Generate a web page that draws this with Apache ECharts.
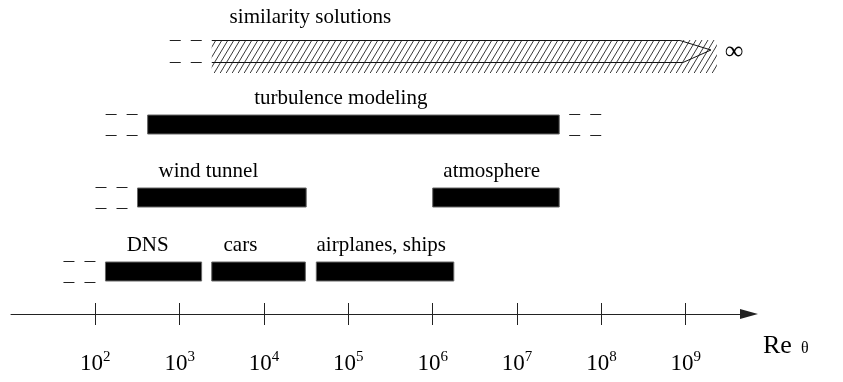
<!DOCTYPE html>
<html><head><meta charset="utf-8">
<script src="https://cdn.jsdelivr.net/npm/echarts@6/dist/echarts.min.js"></script>
<style>html,body{margin:0;padding:0;background:#fff}#c{width:843px;height:382px}</style>
</head><body><div id="c"></div>
<script>
// ---- data (Re_theta ranges as log10 exponents) ----
const labels   = ['DNS', 'cars', 'airplanes, ships', 'wind tunnel', 'atmosphere', 'turbulence modeling', 'similarity solutions'];
const rows     = [0, 0, 0, 1, 1, 2, 3];
const startExp = [2.12, 3.38, 4.62, 2.50, 6.00, 2.62, 3.38];
const endExp   = [3.26, 4.49, 6.25, 4.50, 7.50, 7.50, 9.37];
const labelExp = [2.62, 3.72, 5.39, 3.34, 6.70, 4.91, 4.55];
const dashLeft = [1, 0, 0, 1, 0, 1, 1];
const dashRight= [0, 0, 0, 0, 0, 1, 0];
const hatched  = [0, 0, 0, 0, 0, 0, 1];
const tickExp  = [2, 3, 4, 5, 6, 7, 8, 9];
const axisName = 'Re';
const axisSub  = 'θ';
const infinityMark = '∞';

const data = labels.map((l, i) => [startExp[i], endExp[i], rows[i], labelExp[i], dashLeft[i], dashRight[i], hatched[i], l]);

// hatch pattern
const pc = document.createElement('canvas');
pc.width = 6; pc.height = 10;
const g = pc.getContext('2d');
g.strokeStyle = '#222'; g.lineWidth = 0.9;
[[-6, 0], [0, 0], [6, 0]].forEach(([ox]) => { g.beginPath(); g.moveTo(ox, 10); g.lineTo(ox + 6, 0); g.stroke(); });

const FONT = '"Liberation Serif", "DejaVu Serif", serif';
const chart = echarts.init(document.getElementById('c'), null, {renderer: 'canvas'});

function dash(x1, x2, y) {
  return {type: 'line', shape: {x1, y1: y + 0.5, x2, y2: y + 0.5}, style: {stroke: '#222', lineWidth: 1}};
}

function renderItem(params, api) {
  const s = api.coord([api.value(0), api.value(2)]);
  const e = api.coord([api.value(1), api.value(2)]);
  const lab = api.coord([api.value(3), api.value(2)]);
  const isH = api.value(6) === 1;
  const h = isH ? 22 : 19;
  const yTop = Math.round(s[1] - h / 2);
  const yBot = yTop + h;
  const ch = [];
  if (!isH) {
    ch.push({type: 'rect', shape: {x: s[0], y: yTop, width: e[0] - s[0], height: h},
      style: {fill: '#000', stroke: '#666', lineWidth: 1}});
    ch.push({type: 'text', x: lab[0], y: yTop - 17, style: {text: labels[params.dataIndex], font: '21px ' + FONT,
      fill: '#000', align: 'center', verticalAlign: 'middle'}});
  } else {
    ch.push({type: 'rect', shape: {x: s[0], y: yTop, width: e[0] - s[0], height: h + 11},
      style: {fill: {image: pc, repeat: 'repeat'}}});
    const t1 = e[0] - 37, t2 = e[0] - 34, tip = [e[0] - 6, yTop + 10];
    ch.push({type: 'polyline', shape: {points: [[s[0], yTop + 0.5], [t1, yTop + 0.5], tip, [t2, yBot + 0.5], [s[0], yBot + 0.5]]},
      style: {stroke: '#111', lineWidth: 1, fill: null}});
    ch.push({type: 'text', x: lab[0], y: yTop - 23, style: {text: labels[params.dataIndex], font: '21px ' + FONT,
      fill: '#000', align: 'center', verticalAlign: 'middle'}});
    ch.push({type: 'text', x: e[0] + 17, y: yTop + 12, style: {text: infinityMark, font: '26px ' + FONT,
      fill: '#000', align: 'center', verticalAlign: 'middle'}});
  }
  const dt = isH ? yTop : yTop - 1, db = isH ? yBot : yBot + 1;
  if (api.value(4) === 1) {
    [[-42, -31], [-21, -10]].forEach(([a, b]) => { ch.push(dash(s[0] + a, s[0] + b, dt)); ch.push(dash(s[0] + a, s[0] + b, db)); });
  }
  if (api.value(5) === 1) {
    [[10, 21], [31, 42]].forEach(([a, b]) => { ch.push(dash(e[0] + a, e[0] + b, dt)); ch.push(dash(e[0] + a, e[0] + b, db)); });
  }
  return {type: 'group', children: ch};
}

const option = {
  animation: false,
  backgroundColor: '#fff',
  grid: {left: 11, right: 94, top: 0, bottom: 68, containLabel: false},
  xAxis: [{
    type: 'value', min: 1, max: 9.75, position: 'bottom',
    splitLine: {show: false},
    axisLine: {onZero: false, lineStyle: {color: '#222', width: 1},
      symbol: ['none', 'path://M5,0 L10,18 L0,18 Z'], symbolSize: [10, 18]},
    axisTick: {customValues: tickExp, length: 11, lineStyle: {color: '#222'}},
    axisLabel: {customValues: tickExp, margin: 36,
      formatter: v => '{a|10}{b|' + v + '}',
      rich: {a: {fontSize: 23, fontFamily: FONT, color: '#000', lineHeight: 28},
             b: {fontSize: 15, fontFamily: FONT, color: '#000', lineHeight: 16, verticalAlign: 'top'}}},
    name: '{r|' + axisName + '}{t|' + axisSub + '}', nameLocation: 'end', nameGap: 14,
    nameTextStyle: {padding: [62, 0, 0, 0], align: 'left',
      rich: {r: {fontSize: 26, fontFamily: FONT, color: '#000', lineHeight: 24, verticalAlign: 'top'},
             t: {fontSize: 16, fontFamily: FONT, color: '#000', lineHeight: 16, verticalAlign: 'bottom', padding: [22, 0, 0, 9]}}}
  }, {
    type: 'value', min: 1, max: 9.75, position: 'bottom',
    axisLine: {show: false, onZero: false}, splitLine: {show: false},
    axisTick: {customValues: tickExp, inside: true, length: 11, lineStyle: {color: '#222'}},
    axisLabel: {show: false}
  }],
  yAxis: {type: 'value', min: -0.58, max: 3.69, show: false},
  series: [{
    type: 'custom', renderItem, data, clip: false,
    encode: {x: [0, 1], y: 2}
  }]
};
chart.setOption(option);
</script></body></html>
